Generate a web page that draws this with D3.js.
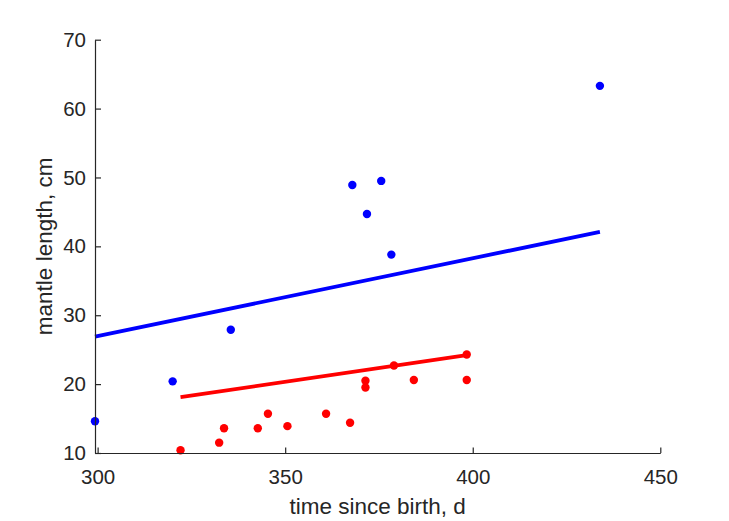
<!DOCTYPE html>
<html>
<head>
<meta charset="utf-8">
<script src="https://cdn.jsdelivr.net/npm/d3@7"></script>
<style>
  body { margin: 0; background: #fff; }
  text { font-family: "Liberation Sans", Arial, Helvetica, sans-serif; fill: #262626; }
</style>
</head>
<body>
<div id="chart"></div>
<script>
// blue series
const blueX = [299.3, 320.0, 335.5, 367.9, 371.8, 375.6, 378.3, 433.9];
const blueY = [14.6, 20.4, 27.9, 48.9, 44.7, 49.5, 38.8, 63.3];
const blueFitX = [299.3, 433.9];
const blueFitY = [26.9, 42.1];

// red series
const redX = [322.1, 332.4, 333.7, 342.7, 345.4, 350.6, 360.9, 367.3, 371.4, 371.4, 379.0, 384.3, 398.4, 398.4];
const redY = [10.4, 11.5, 13.6, 13.6, 15.7, 13.9, 15.7, 14.4, 19.5, 20.5, 22.7, 20.6, 20.6, 24.3];
const redFitX = [322.1, 398.4];
const redFitY = [18.1, 24.2];

const xTicks = [300, 350, 400, 450];
const yTicks = [10, 20, 30, 40, 50, 60, 70];

const width = 729, height = 521;
const plotLeft = 95, plotRight = 660.3, plotTop = 39.7, plotBottom = 453;
const axisColor = '#262626';

const svg = d3.select('#chart').append('svg')
  .attr('width', width)
  .attr('height', height);

svg.append('rect').attr('width', width).attr('height', height).attr('fill', '#fff');

const x = d3.scaleLinear().domain([299.3, 450]).range([plotLeft, plotRight]);
const y = d3.scaleLinear().domain([10, 70]).range([plotBottom, plotTop]);

// fit lines
const line = d3.line().x(d => x(d[0])).y(d => y(d[1]));

svg.append('path')
  .datum(d3.zip(blueFitX, blueFitY))
  .attr('d', line)
  .attr('fill', 'none')
  .attr('stroke', '#0000ff')
  .attr('stroke-width', 3.8);

svg.append('path')
  .datum(d3.zip(redFitX, redFitY))
  .attr('d', line)
  .attr('fill', 'none')
  .attr('stroke', '#ff0000')
  .attr('stroke-width', 3.8);

// points
svg.selectAll('circle.blue')
  .data(d3.zip(blueX, blueY))
  .enter()
  .append('circle')
  .attr('class', 'blue')
  .attr('cx', d => x(d[0]))
  .attr('cy', d => y(d[1]))
  .attr('r', 4.2)
  .attr('fill', '#0000ff');

svg.selectAll('circle.red')
  .data(d3.zip(redX, redY))
  .enter()
  .append('circle')
  .attr('class', 'red')
  .attr('cx', d => x(d[0]))
  .attr('cy', d => y(d[1]))
  .attr('r', 4.2)
  .attr('fill', '#ff0000');

// axes
const xAxis = svg.append('g')
  .attr('transform', `translate(0,${plotBottom})`)
  .call(d3.axisBottom(x).tickValues(xTicks).tickSizeInner(-5.5).tickSizeOuter(0).tickPadding(16.3));

const yAxis = svg.append('g')
  .attr('transform', `translate(${plotLeft},0)`)
  .call(d3.axisLeft(y).tickValues(yTicks).tickSizeInner(-6).tickSizeOuter(0).tickPadding(9));

[xAxis, yAxis].forEach(g => {
  g.select('.domain').attr('stroke', axisColor).attr('stroke-width', 1.2);
  g.selectAll('.tick line').attr('stroke', axisColor).attr('stroke-width', 1.2);
  g.selectAll('.tick text')
    .attr('font-size', '20.5px')
    .attr('font-family', '"Liberation Sans", Arial, sans-serif')
    .attr('fill', axisColor);
});

// axis labels
svg.append('text')
  .attr('x', (plotLeft + plotRight) / 2)
  .attr('y', 514)
  .attr('text-anchor', 'middle')
  .attr('font-size', '22.5px')
  .text('time since birth, d');

svg.append('text')
  .attr('transform', `translate(52,${(plotTop + plotBottom) / 2}) rotate(-90)`)
  .attr('text-anchor', 'middle')
  .attr('font-size', '22.5px')
  .text('mantle length, cm');
</script>
</body>
</html>
